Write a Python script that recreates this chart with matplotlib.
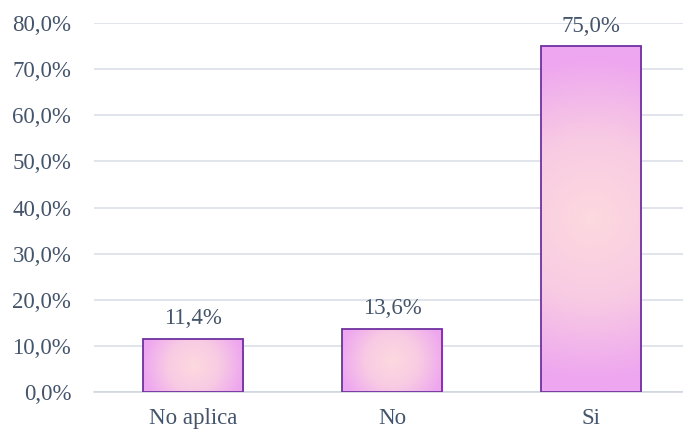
import numpy as np
import matplotlib
matplotlib.use("Agg")
import matplotlib.pyplot as plt
from matplotlib.patches import Rectangle
from matplotlib.colors import LinearSegmentedColormap

categories = ["No aplica", "No", "Si"]
values = [11.4, 13.6, 75.0]
yticks = [0, 10, 20, 30, 40, 50, 60, 70, 80]

text_color = "#44546A"
plt.rcParams['font.family'] = ['Liberation Serif', 'DejaVu Serif']

fig = plt.figure(figsize=(6.83, 4.33), dpi=100)
ax_h_px = 391.7 - 23.3
ax = fig.add_axes([93.5/683, (433-391.7)/433, 597/683, ax_h_px/433])
ax.set_xlim(-0.5, 2.5)
ax.set_ylim(0, 80)

cmap = LinearSegmentedColormap.from_list("g", ["#FDD9DF", "#F8CBE3", "#EEA6F0"])
width = 0.503
w_px = width * 597 / 3
nx, ny = 200, 400
xx, yy = np.meshgrid(np.linspace(-1, 1, nx), np.linspace(-1, 1, ny))

for i, v in enumerate(values):
    x0 = i - width/2
    h_px = v / 80 * ax_h_px
    dx = xx * w_px / 2
    dy = yy * h_px / 2
    r = np.sqrt(dx**2 + dy**2) / np.sqrt((w_px/2)**2 + (h_px/2)**2)
    r = np.clip(r / 0.9, 0, 1)
    im = ax.imshow(r, cmap=cmap, vmin=0, vmax=1, extent=[x0, x0+width, 0, v],
                   aspect='auto', origin='lower', zorder=2, interpolation='bilinear')
    rect = Rectangle((x0, 0), width, v, facecolor='none', edgecolor='#7030A0',
                     linewidth=1.3, zorder=3)
    ax.add_patch(rect)
    im.set_clip_path(rect)
    ax.annotate(f"{v:.1f}".replace(".", ",") + "%", (i, v), xytext=(0, 7),
                textcoords='offset points', ha='center', va='bottom',
                fontsize=16.5, color=text_color, zorder=4)

ax.set_aspect('auto')
ax.set_yticks(yticks)
ax.set_yticklabels([f"{t:.1f}".replace(".", ",") + "%" for t in yticks])
ax.set_xticks(range(len(categories)))
ax.set_xticklabels(categories)
ax.tick_params(axis='both', length=0, labelsize=16.5, labelcolor=text_color)
ax.tick_params(axis='x', pad=12)
ax.tick_params(axis='y', pad=16)
ax.grid(axis='y', color='#D9DEE5', linewidth=1.1, zorder=0)
ax.set_axisbelow(True)
for s in ['top', 'right', 'left']:
    ax.spines[s].set_visible(False)
ax.spines['bottom'].set_color('#D0D5DD')
ax.spines['bottom'].set_linewidth(1.1)

fig.savefig("out.png", dpi=100)
